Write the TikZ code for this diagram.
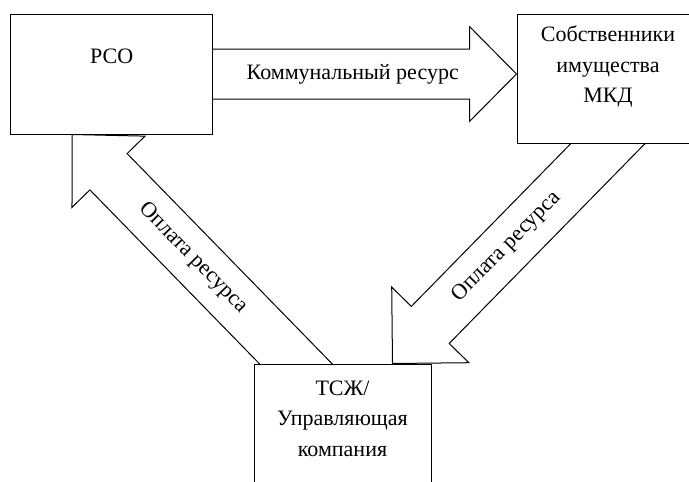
\documentclass[tikz,border=0pt]{standalone}
\usepackage{fontspec}
\setmainfont{Liberation Serif}
\usetikzlibrary{calc,positioning,backgrounds}
\newcommand{\blockarrow}[5]{%
  \coordinate (ba) at ($(#1)!-40pt!(#2)$);
  \coordinate (bh) at ($(#2)!#5!(#1)$);
  \draw[flow] ($(ba)!#3!90:(#2)$) -- ($(bh)!#3!90:(#2)$) -- ($(bh)!#4!90:(#2)$) -- (#2)
    -- ($(bh)!#4!-90:(#2)$) -- ($(bh)!#3!-90:(#2)$) -- ($(ba)!#3!-90:(#2)$) -- cycle;
}
\begin{document}
\begin{tikzpicture}[x=1pt,y=-1pt,
  party/.style={draw, fill=white, line width=1pt, inner sep=0pt},
  flow/.style={draw, line width=1pt, line join=miter},
  lbl/.style={font=\fontsize{22}{30.5}\selectfont, align=center, inner sep=0pt}]
\useasboundingbox (0,0) rectangle (689,482);
\node[party, minimum width=202pt, minimum height=120pt] (rso) at (111.7,74) {};
\node[party, minimum width=182pt, minimum height=129pt] (owners) at (608,78.5) {};
\node[party, minimum width=177pt, minimum height=140pt] (tsj) at (342.5,434) {};
\node[lbl] (rsoT) at ($(rso.north)+(0,43)$) {РСО};
\node[lbl] (ownersT) at ($(owners.north)+(0,53)$) {Собственники\\имущества\\МКД};
\node[lbl] (tsjT) at ($(tsj.north)+(0,55)$) {ТСЖ/\\Управляющая\\компания};
\coordinate (tipA) at (owners.west |- rso.east);
\coordinate (startB) at (owners.south);
\coordinate (tipB) at ($(tsj.north east)+(-39,0)$);
\coordinate (startC) at ($(tsj.north west)+(42,0)$);
\coordinate (tipC) at ($(rso.south west)+(62,0)$);
\begin{scope}[on background layer]
\blockarrow{rso.east}{tipA}{25pt}{47.5pt}{47pt}
\blockarrow{startB}{tipB}{26.5pt}{54pt}{54pt}
\blockarrow{startC}{tipC}{26pt}{51pt}{52pt}
\end{scope}
\node[lbl] (flowA) at ($(rso.east)!0.46!(tipA)$) {Коммунальный ресурс};
\path (startB) -- node[lbl, sloped, pos=0.47] (payB) {Оплата ресурса} (tipB);
\path (startC) -- node[lbl, sloped, pos=0.46] (payC) {Оплата ресурса} (tipC);
\end{tikzpicture}
\end{document}
